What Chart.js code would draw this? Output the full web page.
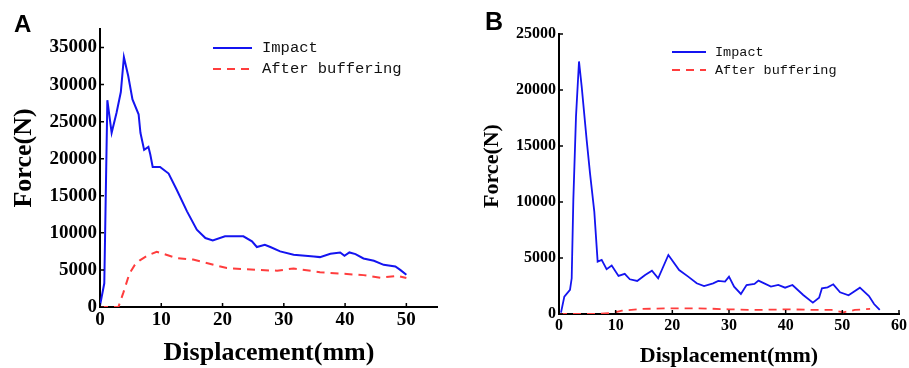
<!DOCTYPE html>
<html>
<head>
<meta charset="utf-8">
<script src="https://cdn.jsdelivr.net/npm/chart.js@4.4.1/dist/chart.umd.min.js"></script>
<style>
  html, body { margin: 0; padding: 0; background: #fff; }
  #wrap { position: relative; width: 909px; height: 368px; overflow: hidden; background: #fff; }
  canvas { position: absolute; top: 0; }
  .lbl { position: absolute; font-family: "Liberation Sans", Arial, sans-serif; font-weight: bold; line-height: 1; color: #000; }
  .ttl { position: absolute; font-family: "Liberation Serif", "Times New Roman", serif; font-weight: bold; line-height: 1; color: #000; white-space: nowrap; }
  .leg { position: absolute; font-family: "Liberation Mono", "DejaVu Sans Mono", monospace; color: #111; white-space: nowrap; }
  .row { position: absolute; left: 0; display: flex; align-items: center; }
  .solid { display: inline-block; border-top: 2px solid #1414f0; }
  .dash { display: inline-block; height: 2px; background: repeating-linear-gradient(90deg, #ff3d3d 0 8px, transparent 8px 14px); }
</style>
</head>
<body>
<div id="wrap">
  <canvas id="ca" width="455" height="368" style="left:0"></canvas>
  <canvas id="cb" width="454" height="368" style="left:455px"></canvas>

  <div class="lbl" style="left:14px;top:12px;font-size:24px;">A</div>
  <div class="lbl" style="left:485px;top:9px;font-size:25px;">B</div>

  <div class="ttl" style="left:23px;top:158px;font-size:26px;transform:translate(-50%,-50%) rotate(-90deg);">Force(N)</div>
  <div class="ttl" style="left:269px;top:352px;font-size:26px;transform:translate(-50%,-50%);">Displacement(mm)</div>
  <div class="ttl" style="left:491px;top:166px;font-size:22px;transform:translate(-50%,-50%) rotate(-90deg);">Force(N)</div>
  <div class="ttl" style="left:729px;top:355px;font-size:22px;transform:translate(-50%,-50%);">Displacement(mm)</div>

  <div class="leg" style="left:213px;top:0;font-size:15.5px;">
    <div class="row" style="top:38px;height:20px;"><span class="solid" style="width:39px;"></span><span style="margin-left:10px;">Impact</span></div>
    <div class="row" style="top:59px;height:20px;"><span class="dash" style="width:39px;"></span><span style="margin-left:10px;">After buffering</span></div>
  </div>
  <div class="leg" style="left:672px;top:0;font-size:13.5px;">
    <div class="row" style="top:43px;height:18px;"><span class="solid" style="width:34px;"></span><span style="margin-left:9px;">Impact</span></div>
    <div class="row" style="top:61px;height:18px;"><span class="dash" style="width:34px;"></span><span style="margin-left:9px;">After buffering</span></div>
  </div>
</div>

<script>
// ---------- Data: panel A ----------
const aImpactX = [0, 0.7, 1.2, 1.9, 2.7, 3.4, 3.9, 4.6, 5.3, 6.3, 6.6, 7.2, 7.9, 8.2, 8.6, 9.8, 11.2, 12.5, 14.2, 15.8, 17.2, 18.4, 20.4, 23.4, 24.8, 25.6, 26.9, 27.8, 29.4, 31.6, 34.9, 35.9, 37.6, 39.2, 39.9, 40.7, 41.7, 43.0, 44.7, 46.3, 48.2, 49.0, 50.0];
const aImpactY = [200, 3200, 27900, 23500, 26200, 29000, 33700, 31200, 28000, 26000, 23500, 21200, 21600, 20600, 18900, 18900, 18000, 15850, 12900, 10430, 9300, 8990, 9530, 9530, 8850, 8090, 8400, 8090, 7500, 7050, 6820, 6730, 7180, 7360, 6910, 7360, 7140, 6550, 6230, 5690, 5460, 5010, 4340];
const aBufferX = [0, 3.0, 3.8, 4.8, 5.7, 6.5, 7.9, 9.25, 12.5, 15.2, 20.7, 25.6, 28.9, 31.6, 35.9, 40.3, 43.0, 45.8, 48.5, 50.0];
const aBufferY = [0, 0, 1900, 4500, 5700, 6300, 7000, 7450, 6600, 6400, 5250, 5000, 4900, 5200, 4700, 4450, 4300, 3950, 4200, 3900];

// ---------- Data: panel B ----------
const bImpactX = [0.35, 0.94, 1.94, 2.24, 2.53, 3.0, 3.53, 4.0, 4.88, 5.47, 6.23, 6.82, 7.53, 8.4, 9.3, 10.5, 11.6, 12.5, 13.8, 15.2, 16.4, 17.5, 19.3, 21.2, 22.8, 24.3, 25.6, 27.2, 28.1, 29.3, 30.0, 30.9, 32.1, 33.1, 34.5, 35.2, 37.4, 38.7, 39.9, 41.2, 43.1, 44.8, 45.9, 46.4, 47.4, 48.4, 49.6, 51.1, 53.1, 54.7, 55.6, 56.6];
const bImpactY = [120, 1550, 2150, 3190, 10190, 17640, 22550, 20320, 15550, 12580, 9140, 4680, 4830, 4000, 4320, 3400, 3580, 3100, 2950, 3490, 3870, 3190, 5270, 3930, 3340, 2740, 2500, 2740, 2950, 2890, 3340, 2440, 1790, 2590, 2680, 2980, 2440, 2590, 2350, 2590, 1700, 1010, 1460, 2300, 2380, 2650, 1940, 1670, 2350, 1610, 890, 360];
const bBufferX = [0, 6.9, 9.6, 11.1, 14.6, 19.9, 24.6, 29.9, 34.6, 40.5, 45.8, 48.1, 50.2, 52.2, 54.9];
const bBufferY = [0, 0, 120, 300, 450, 510, 510, 420, 360, 420, 360, 360, 150, 360, 450];

// ---------- Tick labels ----------
const aXTicks = [0, 10, 20, 30, 40, 50];
const aYTicks = [0, 5000, 10000, 15000, 20000, 25000, 30000, 35000];
const bXTicks = [0, 10, 20, 30, 40, 50, 60];
const bYTicks = [0, 5000, 10000, 15000, 20000, 25000];

const seriesNames = ['Impact', 'After buffering'];

function pts(xs, ys) { return xs.map((x, i) => ({ x: x, y: ys[i] })); }

const innerTicks = {
  id: 'innerTicks',
  afterDraw(chart) {
    const ctx = chart.ctx, ca = chart.chartArea;
    const xs = chart.scales.x, ys = chart.scales.y;
    ctx.save();
    ctx.strokeStyle = '#000';
    ctx.lineWidth = 1.5;
    ctx.beginPath();
    xs.ticks.forEach(t => { const p = xs.getPixelForValue(t.value); ctx.moveTo(p, ca.bottom); ctx.lineTo(p, ca.bottom - 4); });
    ys.ticks.forEach(t => { const p = ys.getPixelForValue(t.value); ctx.moveTo(ca.left, p); ctx.lineTo(ca.left + 4, p); });
    ctx.stroke();
    ctx.restore();
  }
};

function makeChart(id, cfg) {
  const tickFont = { family: '"Liberation Serif", "Times New Roman", serif', weight: 'bold', size: cfg.tickSize };
  return new Chart(document.getElementById(id), {
    type: 'line',
    data: {
      datasets: [
        { label: seriesNames[0], data: pts(cfg.ix, cfg.iy), borderColor: '#1414f0', borderWidth: cfg.lw, pointRadius: 0, tension: 0, fill: false },
        { label: seriesNames[1], data: pts(cfg.bx, cfg.by), borderColor: '#ff3d3d', borderWidth: cfg.lw, borderDash: [8, 6], pointRadius: 0, tension: 0, fill: false }
      ]
    },
    options: {
      responsive: false,
      animation: false,
      devicePixelRatio: 1,
      layout: { padding: { top: cfg.top, right: cfg.right, left: 0, bottom: 0 } },
      plugins: { legend: { display: false }, tooltip: { enabled: false } },
      scales: {
        x: {
          type: 'linear', min: 0, max: cfg.xmax,
          afterBuildTicks: s => { s.ticks = cfg.xt.map(v => ({ value: v })); },
          afterFit: s => { s.height = cfg.xh; },
          ticks: { font: tickFont, color: '#000', padding: 2, includeBounds: false, callback: v => String(v) },
          grid: { display: false, drawTicks: false },
          border: { display: true, color: '#000', width: 2 }
        },
        y: {
          type: 'linear', min: 0, max: cfg.ymax,
          afterBuildTicks: s => { s.ticks = cfg.yt.map(v => ({ value: v })); },
          afterFit: s => { s.width = cfg.yw; },
          ticks: { font: tickFont, color: '#000', padding: 3, includeBounds: false, callback: v => String(v) },
          grid: { display: false, drawTicks: false },
          border: { display: true, color: '#000', width: 2 }
        }
      }
    },
    plugins: [innerTicks]
  });
}

makeChart('ca', { ix: aImpactX, iy: aImpactY, bx: aBufferX, by: aBufferY, xmax: 55, ymax: 37500, xt: aXTicks, yt: aYTicks,
  tickSize: 19, lw: 2, top: 29, right: 18, xh: 61, yw: 100 });
makeChart('cb', { ix: bImpactX, iy: bImpactY, bx: bBufferX, by: bBufferY, xmax: 60, ymax: 25000, xt: bXTicks, yt: bYTicks,
  tickSize: 16, lw: 1.8, top: 34, right: 10, xh: 54, yw: 104 });
</script>
</body>
</html>
